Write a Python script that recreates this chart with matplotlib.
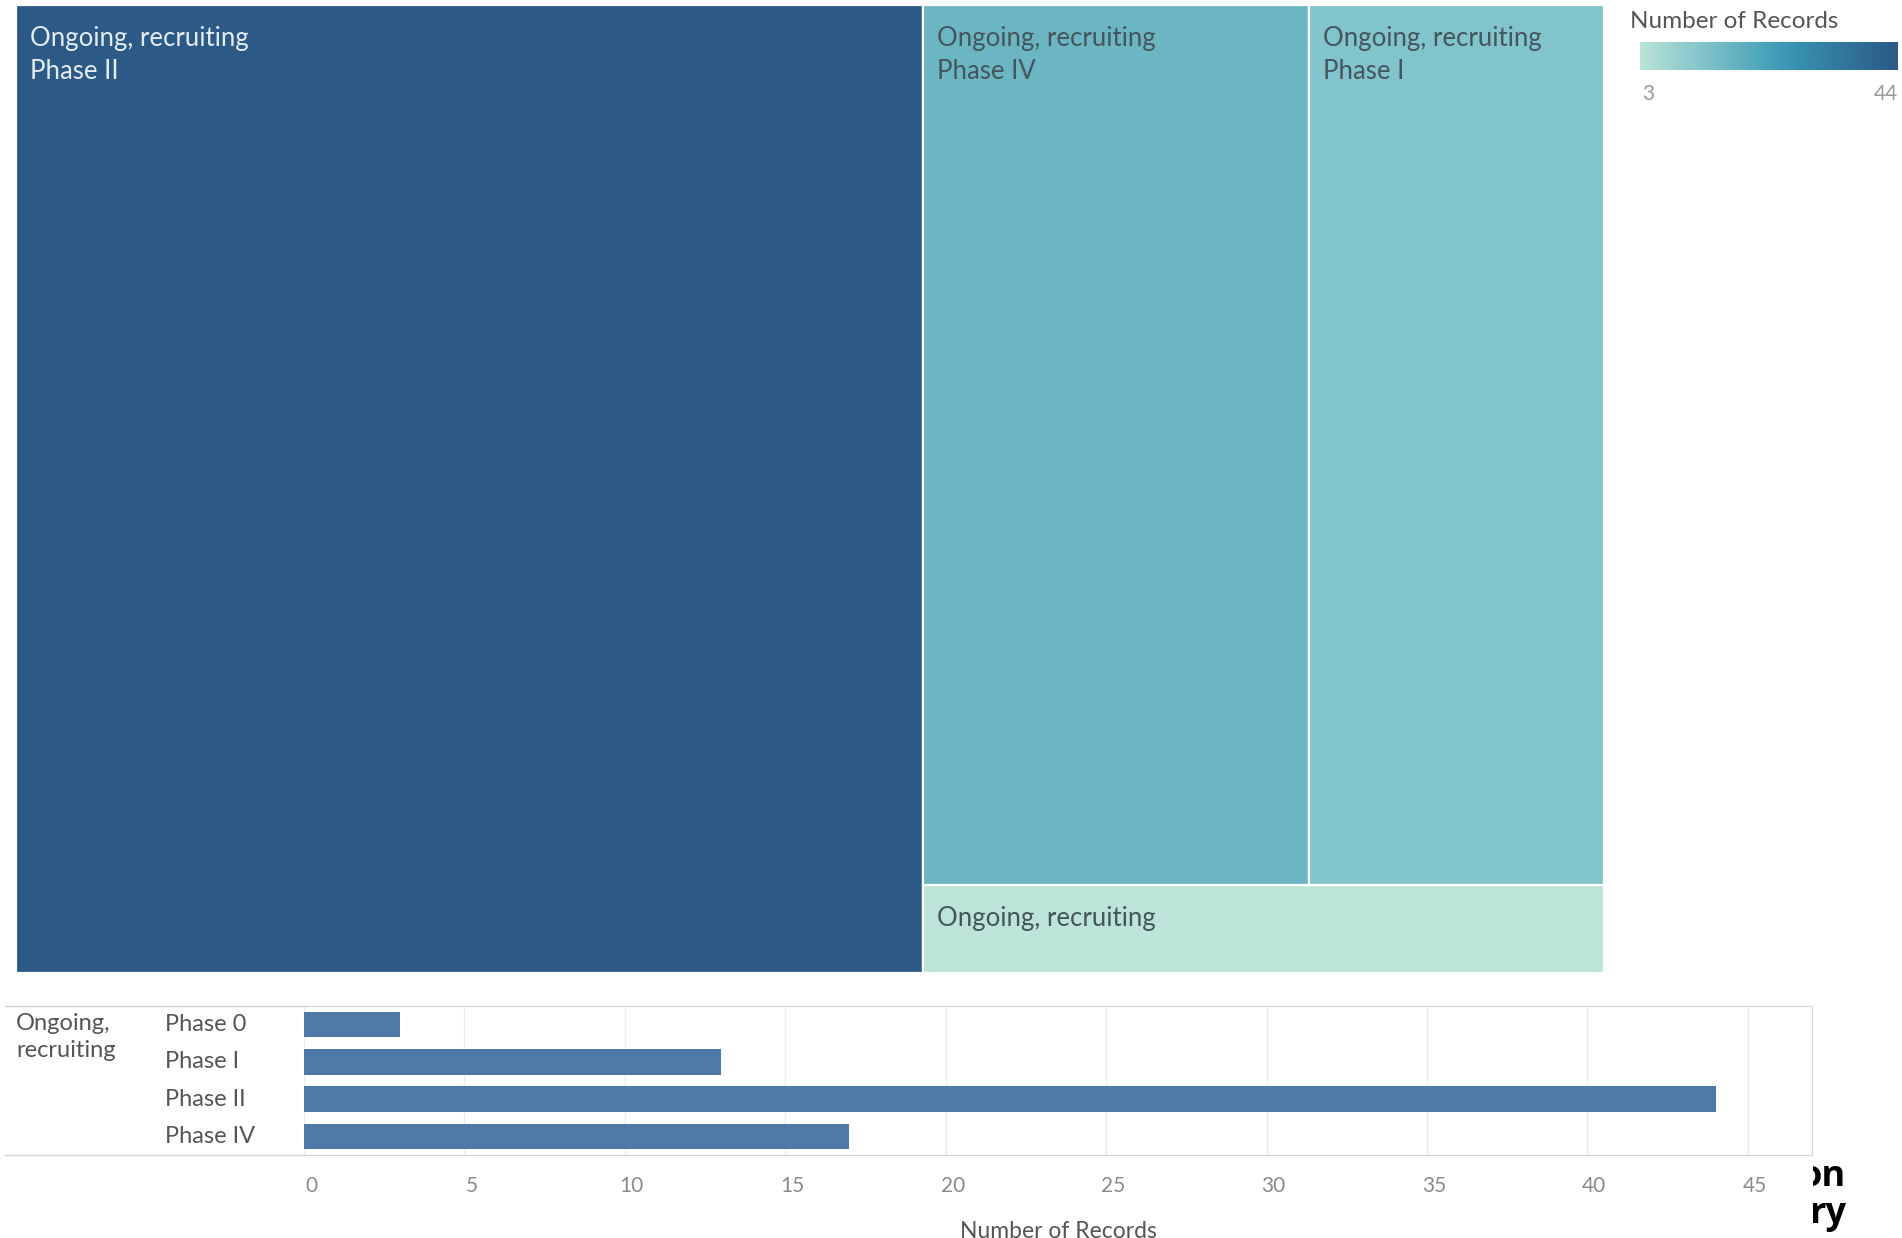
import matplotlib.pyplot as plt
import matplotlib.colors as mcolors
import matplotlib.transforms as mtransforms
from matplotlib.lines import Line2D
from matplotlib.patches import Rectangle
import numpy as np

###############################################################################
# Data
status = 'Ongoing, recruiting'
phases = ['Phase 0', 'Phase I', 'Phase II', 'Phase IV']
records = [3, 13, 44, 17]
bar_ticks = [0, 5, 10, 15, 20, 25, 30, 35, 40, 45]
legend_title = 'Number of Records'
caption_bits = ['on', 'ry']

# Tableau "Blue-Teal" sequential palette
blue_teal = ['#bce4d8', '#aedcd5', '#a1d5d2', '#95cecf', '#89c8cc', '#7ec1ca',
             '#72bac6', '#66b2c2', '#59acbe', '#4ba5ba', '#419eb6', '#3b96b2',
             '#358ead', '#3586a7', '#347ea1', '#32779b', '#316f96', '#2f6790',
             '#2d608a', '#2c5985']
cmap = mcolors.LinearSegmentedColormap.from_list('blue_teal', blue_teal)
norm = mcolors.Normalize(min(records), max(records))

plt.rcParams['font.family'] = ['Lato', 'DejaVu Sans']

W, H = 1902, 1238
fig = plt.figure(figsize=(W / 100, H / 100), dpi=100)


def px_box(x0, y0, x1, y1):
    # pixel box (top-left origin) -> figure fraction rect
    return [x0 / W, 1 - y1 / H, (x1 - x0) / W, (y1 - y0) / H]


###############################################################################
# Treemap layout (largest gets a full column, the rest split top/bottom)
rec = dict(zip(phases, records))
total = sum(records)
order = sorted(phases, key=lambda p: -rec[p])
big, top_row, bottom = order[0], order[1:-1], order[-1]
w_big = rec[big] / total
rest = total - rec[big]
h_bot = rec[bottom] / rest
cells = {big: (0, 0, w_big, 1), bottom: (w_big, 0, 1 - w_big, h_bot)}
x = w_big
top_sum = sum(rec[p] for p in top_row)
for p in top_row:
    w = (1 - w_big) * rec[p] / top_sum
    cells[p] = (x, h_bot, w, 1 - h_bot)
    x += w

ax = fig.add_axes(px_box(16, 5, 1604, 973))
ax.set_xlim(0, 1)
ax.set_ylim(0, 1)
ax.axis('off')
for p, (x0, y0, w, h) in cells.items():
    ax.add_patch(Rectangle((x0, y0), w, h, facecolor=cmap(norm(rec[p])),
                           edgecolor='white', linewidth=1.6))
    label = status if p == bottom else status + '\n' + p
    tcol = '#e4ecf4' if norm(rec[p]) > 0.6 else '#44565b'
    ax.annotate(label, xy=(x0, y0 + h), xytext=(10, -15),
                textcoords='offset points', ha='left', va='top',
                fontsize=18.5, color=tcol, linespacing=1.4)

###############################################################################
# Colour legend
ax_t = fig.add_axes(px_box(1630, 8, 1900, 34))
ax_t.axis('off')
ax_t.text(0.0, 0.5, legend_title, fontsize=17.5, color='#555555',
          ha='left', va='center')
cax = fig.add_axes(px_box(1640, 42, 1898, 70))
cax.imshow(np.linspace(min(records), max(records), 256)[None, :], aspect='auto',
           cmap=cmap, norm=norm, extent=[min(records), max(records), 0, 1])
cax.axis('off')
cax.text(0.01, -0.85, str(min(records)), transform=cax.transAxes, ha='left',
         va='center', fontsize=15, color='#999999')
cax.text(1.0, -0.85, str(max(records)), transform=cax.transAxes, ha='right',
         va='center', fontsize=15, color='#999999')

###############################################################################
# Bar chart
bx = fig.add_axes(px_box(304, 1006, 1812, 1155))
ypos = np.arange(len(phases))
bx.barh(ypos, records, height=0.68, color='#4e79a7', zorder=3)
bx.set_xlim(0, 47)
bx.set_ylim(len(phases) - 0.5, -0.5)
bx.set_xticks(bar_ticks)
bx.set_yticks([])
bx.grid(axis='x', color='#ececec', linewidth=1, zorder=0)
bx.tick_params(axis='x', length=0, pad=15, labelsize=15, labelcolor='#8a8a8a')
shift = mtransforms.ScaledTranslation(7 / 100, 0, fig.dpi_scale_trans)
for lbl in bx.get_xticklabels():
    lbl.set_transform(lbl.get_transform() + shift)
for s in ['top', 'bottom', 'right']:
    bx.spines[s].set_color('#d4d4d4')
bx.spines['left'].set_visible(False)
bx.set_xlabel(legend_title, fontsize=16.5, color='#555555', labelpad=18)

for i, p in enumerate(phases):
    bx.text(-0.0922, i, p, transform=bx.get_yaxis_transform(), ha='left',
            va='center', fontsize=17, color='#555555')
bx.text(-0.191, -0.3, status.replace(' ', '\n'), transform=bx.get_yaxis_transform(),
        ha='left', va='top', fontsize=17, color='#555555', linespacing=1.3)

# extend the frame lines under the row labels
for yy in [1006, 1155]:
    fig.add_artist(Line2D([5 / W, 304 / W], [1 - yy / H, 1 - yy / H],
                          transform=fig.transFigure, color='#d4d4d4', linewidth=1))

###############################################################################
# Cut-off caption fragments at the lower right
clip_ax = fig.add_axes(px_box(1813, 1150, 1902, 1238))
clip_ax.axis('off')
clip_ax.text(0.37, 0.69, caption_bits[0], transform=clip_ax.transAxes, ha='right',
             va='center', fontsize=26, fontweight='bold', family='Open Sans',
             color='black', clip_on=True)
clip_ax.text(0.37, 0.27, caption_bits[1], transform=clip_ax.transAxes, ha='right',
             va='center', fontsize=26, fontweight='bold', family='Open Sans',
             color='black', clip_on=True)

fig.savefig('out.png', dpi=100)
